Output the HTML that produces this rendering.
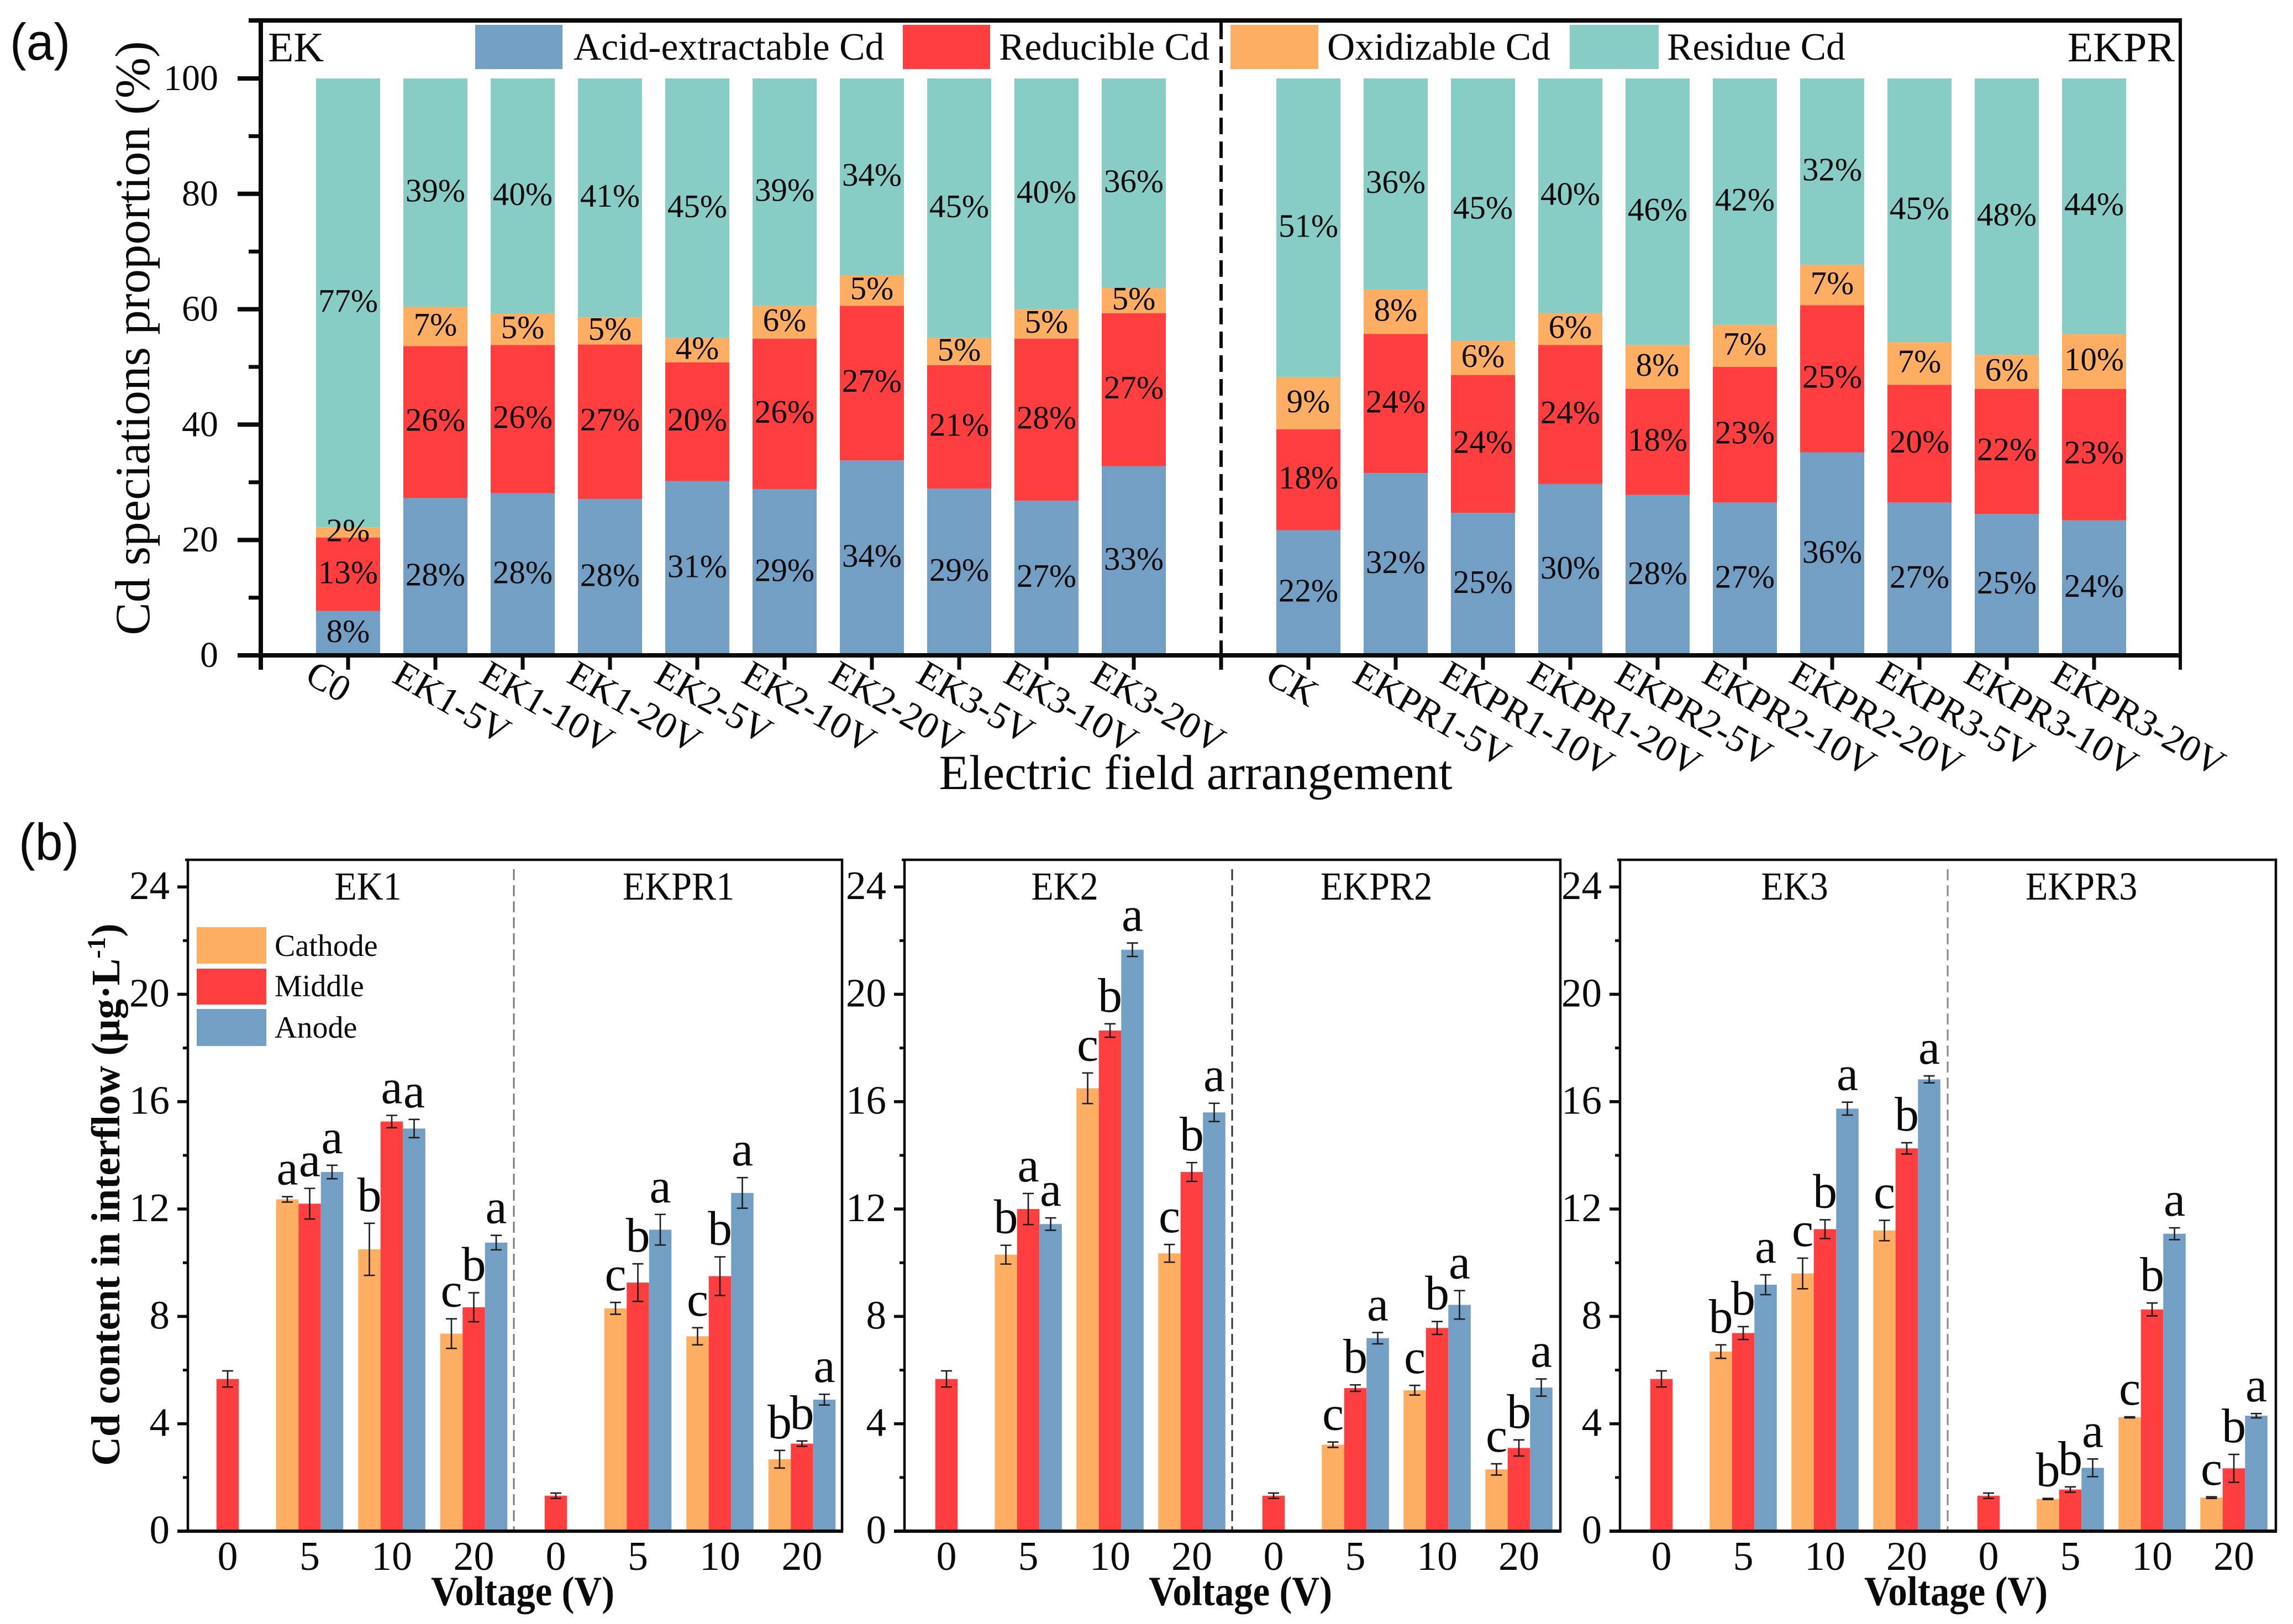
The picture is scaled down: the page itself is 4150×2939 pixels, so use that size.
<!DOCTYPE html>
<html lang="en">
<head>
<meta charset="utf-8">
<title>Cd speciation and interflow content</title>
<style>
html,body{margin:0;padding:0;background:#fff}
svg{display:block;font-family:"Liberation Serif",serif;fill:#0a0a0a}
</style>
</head>
<body>
<svg id="fig" xmlns="http://www.w3.org/2000/svg" width="4150" height="2939" viewBox="0 0 4150 2939">
  <rect x="0" y="0" width="4150" height="2939" fill="#fff"/>
  <g id="panel-a"></g>
  <g id="panel-b"></g>

  <text transform="translate(18,108) scale(.95,1)" font-family="'Liberation Sans',sans-serif" font-size="94">(a)</text>
  <text transform="translate(34,1556) scale(.95,1)" font-family="'Liberation Sans',sans-serif" font-size="94">(b)</text>

  <text transform="translate(270,612) rotate(-90)" text-anchor="middle" font-size="89">Cd speciations proportion (%)</text>
  <text x="2164" y="1428" text-anchor="middle" font-size="89">Electric field arrangement</text>
  <text x="485" y="111" font-size="76">EK</text>
  <text x="3936" y="111" text-anchor="end" font-size="76">EKPR</text>

  <g font-size="69.6">
    <rect x="860" y="45" width="158" height="80" fill="#739fc4"/>
    <text x="1038" y="108">Acid-extractable Cd</text>
    <rect x="1634" y="45" width="158" height="80" fill="#ff3e3f"/>
    <text x="1808" y="108">Reducible Cd</text>
    <rect x="2227" y="45" width="159" height="80" fill="#fdae62"/>
    <text x="2402" y="108">Oxidizable Cd</text>
    <rect x="2841" y="45" width="161" height="80" fill="#87cdc6"/>
    <text x="3017" y="108">Residue Cd</text>
  </g>

  <text transform="translate(216,2162) rotate(-90)" text-anchor="middle" font-size="73" font-weight="bold">Cd content in interflow (µg·L<tspan dy="-26" font-size="47">-1</tspan><tspan dy="26">)</tspan></text>
  <text x="946" y="2905" text-anchor="middle" font-size="75" font-weight="bold" textLength="332" lengthAdjust="spacingAndGlyphs">Voltage (V)</text>
  <text x="2245" y="2905" text-anchor="middle" font-size="75" font-weight="bold" textLength="332" lengthAdjust="spacingAndGlyphs">Voltage (V)</text>
  <text x="3540" y="2905" text-anchor="middle" font-size="75" font-weight="bold" textLength="332" lengthAdjust="spacingAndGlyphs">Voltage (V)</text>

  <g font-size="56">
    <rect x="356" y="1678" width="126" height="66" fill="#fdae62"/>
    <text x="497" y="1730">Cathode</text>
    <rect x="356" y="1753" width="126" height="65" fill="#ff3e3f"/>
    <text x="497" y="1803">Middle</text>
    <rect x="356" y="1826" width="126" height="67" fill="#739fc4"/>
    <text x="497" y="1878">Anode</text>
  </g>
</svg>

<script>
/* ---------- Panel (a) data ---------- */
const catsLeft = ['C0','EK1-5V','EK1-10V','EK1-20V','EK2-5V','EK2-10V','EK2-20V','EK3-5V','EK3-10V','EK3-20V'];
const catsRight = ['CK','EKPR1-5V','EKPR1-10V','EKPR1-20V','EKPR2-5V','EKPR2-10V','EKPR2-20V','EKPR3-5V','EKPR3-10V','EKPR3-20V'];

const acidLeft = [7.7,27.3,28.1,27.1,30.2,28.8,33.8,28.9,26.8,32.8];
const reducibleLeft = [12.7,26.3,25.7,26.8,20.6,26.1,26.8,21.4,28.1,26.5];
const oxidizableLeft = [1.8,6.8,5.4,4.7,4.2,5.7,5.3,4.7,5.1,4.4];
const residueLeft = [77.8,39.6,40.8,41.4,45.0,39.4,34.1,45.0,40.0,36.3];

const acidRight = [21.7,31.6,24.7,29.7,27.8,26.5,35.2,26.5,24.5,23.4];
const reducibleRight = [17.5,24.1,23.9,24.1,18.4,23.5,25.5,20.4,21.7,22.8];
const oxidizableRight = [9.0,7.7,5.9,5.5,7.6,7.3,7.0,7.4,5.9,9.5];
const residueRight = [51.8,36.6,45.5,40.7,46.2,42.7,32.3,45.7,47.9,44.3];

const acidLeftLabels = ['8%','28%','28%','28%','31%','29%','34%','29%','27%','33%'];
const reducibleLeftLabels = ['13%','26%','26%','27%','20%','26%','27%','21%','28%','27%'];
const oxidizableLeftLabels = ['2%','7%','5%','5%','4%','6%','5%','5%','5%','5%'];
const residueLeftLabels = ['77%','39%','40%','41%','45%','39%','34%','45%','40%','36%'];

const acidRightLabels = ['22%','32%','25%','30%','28%','27%','36%','27%','25%','24%'];
const reducibleRightLabels = ['18%','24%','24%','24%','18%','23%','25%','20%','22%','23%'];
const oxidizableRightLabels = ['9%','8%','6%','6%','8%','7%','7%','7%','6%','10%'];
const residueRightLabels = ['51%','36%','45%','40%','46%','42%','32%','45%','48%','44%'];

const ticksA = [0,20,40,60,80,100];
const minorTicksA = [10,30,50,70,90];

/* ---------- Panel (b) data ---------- */
const voltages = ['0','5','10','20','0','5','10','20'];
const ticksB = [0,4,8,12,16,20,24];
const minorTicksB = [2,6,10,14,18,22];

const p1Cathode = [null,12.36,10.5,7.36,null,8.3,7.26,2.68];
const p1Middle = [5.67,12.2,15.26,8.34,1.32,9.26,9.5,3.26];
const p1Anode = [null,13.38,15.0,10.75,null,11.23,12.6,4.9];
const p1CathodeErr = [0,0.1,0.97,0.55,0,0.22,0.32,0.33];
const p1MiddleErr = [0.3,0.57,0.23,0.54,0.1,0.7,0.72,0.1];
const p1AnodeErr = [0,0.25,0.34,0.27,0,0.57,0.57,0.2];
const p1CathodeLetters = ['','a','b','c','','c','c','b'];
const p1MiddleLetters = ['','a','a','b','','b','b','b'];
const p1AnodeLetters = ['','a','a','a','','a','a','a'];

const p2Cathode = [null,10.3,16.5,10.35,null,3.22,5.25,2.3];
const p2Middle = [5.67,12.0,18.65,13.38,1.32,5.33,7.57,3.1];
const p2Anode = [null,11.44,21.66,15.6,null,7.19,8.43,5.35];
const p2CathodeErr = [0,0.35,0.57,0.33,0,0.1,0.18,0.21];
const p2MiddleErr = [0.3,0.58,0.25,0.35,0.1,0.12,0.24,0.3];
const p2AnodeErr = [0,0.23,0.25,0.34,0,0.21,0.53,0.32];
const p2CathodeLetters = ['','b','c','c','','c','c','c'];
const p2MiddleLetters = ['','a','b','b','','b','b','b'];
const p2AnodeLetters = ['','a','a','a','','a','a','a'];

const p3Cathode = [null,6.69,9.6,11.2,null,1.2,4.24,1.25];
const p3Middle = [5.67,7.38,11.25,14.26,1.32,1.55,8.26,2.34];
const p3Anode = [null,9.18,15.74,16.83,null,2.36,11.08,4.3];
const p3CathodeErr = [0,0.25,0.57,0.38,0,0.02,0.02,0.03];
const p3MiddleErr = [0.3,0.24,0.35,0.21,0.1,0.1,0.24,0.52];
const p3AnodeErr = [0,0.37,0.24,0.13,0,0.33,0.22,0.08];
const p3CathodeLetters = ['','b','c','c','','b','c','c'];
const p3MiddleLetters = ['','b','b','b','','b','b','b'];
const p3AnodeLetters = ['','a','a','a','','a','a','a'];

/* ---------- helpers ---------- */
const NS = 'http://www.w3.org/2000/svg';
const BLUE = '#739fc4', RED = '#ff3e3f', ORANGE = '#fdae62', TEAL = '#87cdc6', INK = '#0a0a0a';

function mk(parent, tag, attrs, content) {
  const el = document.createElementNS(NS, tag);
  for (const k in attrs) el.setAttribute(k, attrs[k]);
  if (content !== undefined) el.textContent = content;
  parent.appendChild(el);
  return el;
}

/* ---------- Panel (a) ---------- */
const gA = document.getElementById('panel-a');
function xA(i) { return 472 + 158 * i; }
function yA(v) { return 1186 - 10.44 * v; }
const BAR_A = 116;

function drawStack(cats, a, r, o, t, aL, rL, oL, tL, firstPos) {
  const colors = [BLUE, RED, ORANGE, TEAL];
  const names = ['acid-extractable', 'reducible', 'oxidizable', 'residue'];
  const series = [a, r, o, t];
  const printed = [aL, rL, oL, tL];
  cats.forEach(function (cat, i) {
    const cx = xA(firstPos + i);
    let base = 0;
    series.forEach(function (values, s) {
      const v = values[i];
      const seg = mk(gA, 'rect', {x: cx - BAR_A / 2, y: yA(base + v), width: BAR_A, height: yA(base) - yA(base + v), fill: colors[s]});
      
      
      base += v;
    });
    base = 0;
    series.forEach(function (values, s) {
      const v = values[i];
      const lab = mk(gA, 'text', {x: cx, y: yA(base + v / 2) + 16, 'text-anchor': 'middle', 'font-size': 59}, printed[s][i]);
      
      
      base += v;
    });
    const tick = mk(gA, 'line', {x1: cx, x2: cx, y1: 1186, y2: 1212, stroke: INK, 'stroke-width': 7});
    
    
    const lab = mk(gA, 'text', {transform: 'translate(' + (cx - 81) + ',1233) rotate(30)', 'font-size': 68}, cat);
    
    
  });
}
drawStack(catsLeft, acidLeft, reducibleLeft, oxidizableLeft, residueLeft, acidLeftLabels, reducibleLeftLabels, oxidizableLeftLabels, residueLeftLabels, 1);
drawStack(catsRight, acidRight, reducibleRight, oxidizableRight, residueRight, acidRightLabels, reducibleRightLabels, oxidizableRightLabels, residueRightLabels, 12);

ticksA.forEach(function (v) {
  const t = mk(gA, 'line', {x1: 430, x2: 472, y1: yA(v), y2: yA(v), stroke: INK, 'stroke-width': 8});
  
  
  const l = mk(gA, 'text', {x: 395, y: yA(v) + 21, 'text-anchor': 'end', 'font-size': 66}, String(v));
  
  
});
minorTicksA.forEach(function (v) {
  const t = mk(gA, 'line', {x1: 450, x2: 472, y1: yA(v), y2: yA(v), stroke: INK, 'stroke-width': 7});
  
  
});

const frameTop = mk(gA, 'line', {x1: 450, x2: 3949, y1: 37, y2: 37, stroke: INK, 'stroke-width': 8});


const frameLeft = mk(gA, 'line', {x1: 472, x2: 472, y1: 37, y2: 1212, stroke: INK, 'stroke-width': 8});


const frameRight = mk(gA, 'line', {x1: 3946, x2: 3946, y1: 37, y2: 1212, stroke: INK, 'stroke-width': 6});


const frameBottom = mk(gA, 'line', {x1: 430, x2: 3949, y1: 1186, y2: 1186, stroke: INK, 'stroke-width': 8});


const splitA = mk(gA, 'line', {x1: xA(11), x2: xA(11), y1: 41, y2: 1186, stroke: INK, 'stroke-width': 6, 'stroke-dasharray': '30 13'});


const splitTick = mk(gA, 'line', {x1: xA(11), x2: xA(11), y1: 1186, y2: 1212, stroke: INK, 'stroke-width': 7});



/* ---------- Panel (b) ---------- */
const gB = document.getElementById('panel-b');
function yB(v) { return 2771 - 48.58 * v; }
const BAR_B = 40.5;

function drawPanel(cfg) {
  const g = mk(gB, 'g', {});
  
  
  const xB = function (i) { return cfg.x0 + cfg.step * i; };

  const seriesNames = ['cathode', 'middle', 'anode'];
  const colors = [ORANGE, RED, BLUE];
  const offsets = [-1, 0, 1];
  const values = [cfg.cathode, cfg.middle, cfg.anode];
  const errors = [cfg.cathodeErr, cfg.middleErr, cfg.anodeErr];
  const letters = [cfg.cathodeLetters, cfg.middleLetters, cfg.anodeLetters];

  values.forEach(function (vals, s) {
    vals.forEach(function (v, i) {
      if (v === null) return;
      const cx = xB(i) + offsets[s] * BAR_B;
      const bar = mk(g, 'rect', {x: cx - BAR_B / 2, y: yB(v), width: BAR_B, height: yB(0) - yB(v), fill: colors[s]});
      
      
    });
  });
  values.forEach(function (vals, s) {
    vals.forEach(function (v, i) {
      if (v === null) return;
      const cx = xB(i) + offsets[s] * BAR_B;
      const e = errors[s][i];
      const eb = mk(g, 'path', {d: 'M' + (cx - 10) + ' ' + yB(v + e) + 'H' + (cx + 10) + 'M' + cx + ' ' + yB(v + e) + 'V' + yB(v - e) + 'M' + (cx - 10) + ' ' + yB(v - e) + 'H' + (cx + 10), fill: 'none', stroke: '#1c1c1c', 'stroke-width': 2.6});
      
      
      if (letters[s][i]) {
        const l = mk(g, 'text', {x: cx, y: yB(v + e) - 22, 'text-anchor': 'middle', 'font-size': 88}, letters[s][i]);
        
        
      }
    });
  });

  voltages.forEach(function (lab, i) {
    const t = mk(g, 'text', {x: xB(i), y: 2841, 'text-anchor': 'middle', 'font-size': 74}, lab);
    
    
  });
  ticksB.forEach(function (v) {
    const t = mk(g, 'line', {x1: cfg.left - 19, x2: cfg.left, y1: yB(v), y2: yB(v), stroke: INK, 'stroke-width': 5.5});
    
    
    const l = mk(g, 'text', {x: cfg.left - 33, y: yB(v) + 22, 'text-anchor': 'end', 'font-size': 73}, String(v));
    
    
  });
  minorTicksB.forEach(function (v) {
    const t = mk(g, 'line', {x1: cfg.left - 9, x2: cfg.left, y1: yB(v), y2: yB(v), stroke: INK, 'stroke-width': 5});
    
    
  });

  const div = mk(g, 'line', {x1: cfg.divider, x2: cfg.divider, y1: 1573, y2: 2771, stroke: cfg.dividerColor, 'stroke-width': 3, 'stroke-dasharray': '20 9'});
  
  

  const frame = mk(g, 'path', {d: 'M' + (cfg.left - 5) + ' 1556H' + cfg.right + 'V2771M' + cfg.left + ' 1556V2771', fill: 'none', stroke: INK, 'stroke-width': 4.5});
  
  
  const axis = mk(g, 'line', {x1: cfg.left - 19, x2: cfg.right + 2, y1: 2771, y2: 2771, stroke: INK, 'stroke-width': 6});
  
  

  const h1 = mk(g, 'text', {transform: 'translate(' + cfg.labelA + ',1628) scale(.92,1)', 'text-anchor': 'middle', 'font-size': 72}, cfg.titleA);
  
  
  const h2 = mk(g, 'text', {transform: 'translate(' + cfg.labelB + ',1628) scale(.92,1)', 'text-anchor': 'middle', 'font-size': 72}, cfg.titleB);
  
  
}

drawPanel({name: 'panel-b1', left: 340, right: 1524, x0: 412, step: 148.5, divider: 930, dividerColor: '#777',
  titleA: 'EK1', titleB: 'EKPR1', labelA: 666, labelB: 1228,
  cathode: p1Cathode, middle: p1Middle, anode: p1Anode,
  cathodeErr: p1CathodeErr, middleErr: p1MiddleErr, anodeErr: p1AnodeErr,
  cathodeLetters: p1CathodeLetters, middleLetters: p1MiddleLetters, anodeLetters: p1AnodeLetters});
drawPanel({name: 'panel-b2', left: 1637, right: 2824, x0: 1713, step: 148, divider: 2230, dividerColor: '#333',
  titleA: 'EK2', titleB: 'EKPR2', labelA: 1927, labelB: 2491,
  cathode: p2Cathode, middle: p2Middle, anode: p2Anode,
  cathodeErr: p2CathodeErr, middleErr: p2MiddleErr, anodeErr: p2AnodeErr,
  cathodeLetters: p2CathodeLetters, middleLetters: p2MiddleLetters, anodeLetters: p2AnodeLetters});
drawPanel({name: 'panel-b3', left: 2932, right: 4119, x0: 3007, step: 148, divider: 3525, dividerColor: '#888',
  titleA: 'EK3', titleB: 'EKPR3', labelA: 3248, labelB: 3767,
  cathode: p3Cathode, middle: p3Middle, anode: p3Anode,
  cathodeErr: p3CathodeErr, middleErr: p3MiddleErr, anodeErr: p3AnodeErr,
  cathodeLetters: p3CathodeLetters, middleLetters: p3MiddleLetters, anodeLetters: p3AnodeLetters});
</script>
</body>
</html>
